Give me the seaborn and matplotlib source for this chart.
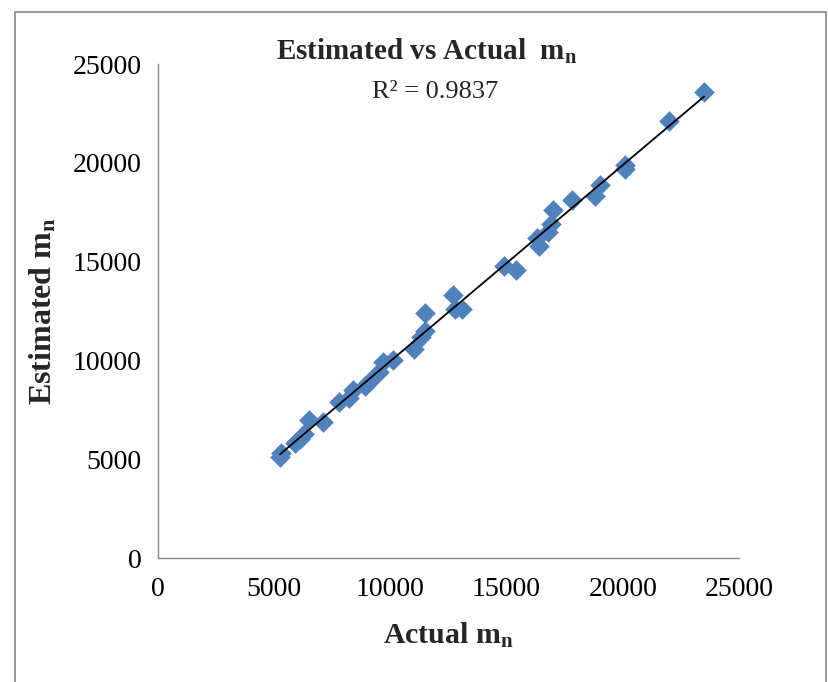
import numpy as np
import pandas as pd
import matplotlib
matplotlib.use('Agg')
import matplotlib.pyplot as plt
import seaborn as sns
from matplotlib.patches import Rectangle

# values
actual = [5250, 5300, 5900, 6100, 6300, 6500, 7100, 7800, 8200, 8400,
          8900, 9100, 9500, 9700, 10100, 11000, 11300, 11500, 11500, 12700,
          12800, 13100, 14900, 15400, 16300, 16400, 16800, 16900, 17000, 17800,
          18800, 19000, 20100, 20100, 22000, 23500]
estimated = [5100, 5300, 5800, 6000, 6300, 7000, 6900, 7900, 8100, 8500,
             8700, 8900, 9400, 9900, 10000, 10600, 11200, 12400, 11500, 13300,
             12600, 12600, 14800, 14600, 16200, 15800, 16500, 16900, 17600, 18100,
             18300, 18900, 19900, 19700, 22100, 23600]
ticks = [0, 5000, 10000, 15000, 20000, 25000]
r2_text = 'R² = 0.9837'

df = pd.DataFrame({'actual': actual, 'estimated': estimated})

sns.set_style('white')
plt.rcParams['font.family'] = ['Liberation Serif', 'DejaVu Serif']
plt.rcParams['mathtext.fontset'] = 'custom'
plt.rcParams['mathtext.rm'] = 'Liberation Serif'
plt.rcParams['mathtext.bf'] = 'Liberation Serif:bold'

W, H = 829, 682
fig = plt.figure(figsize=(W / 100, H / 100), dpi=100)
ax = fig.add_axes([158 / W, (H - 558) / H, (739 - 158) / W, (558 - 64) / H])

sns.scatterplot(data=df, x='actual', y='estimated', marker='D', s=110,
                color='#4F81BD', edgecolor='#4F81BD', linewidth=0, ax=ax,
                zorder=2)
sns.regplot(data=df, x='actual', y='estimated', scatter=False, ci=None,
            truncate=True, color='black', line_kws={'lw': 1.3, 'zorder': 3},
            ax=ax)

ax.set_xlim(0, 25000)
ax.set_ylim(0, 25000)
ax.set_xticks(ticks)
ax.set_yticks(ticks)
ax.tick_params(direction='out', length=6, width=1, color='#888888',
               labelsize=20, labelcolor='black')
ax.tick_params(axis='x', pad=8)
ax.tick_params(axis='y', pad=6)
for side in ['top', 'right']:
    ax.spines[side].set_visible(False)
for side in ['left', 'bottom']:
    ax.spines[side].set_color('#888888')
    ax.spines[side].set_linewidth(1)

ax.set_xlabel(r'Actual $\mathbf{m_n}$', fontsize=21.5, fontweight='bold', labelpad=13)
ax.set_ylabel(r'Estimated $\mathbf{m_n}$', fontsize=23, fontweight='bold', labelpad=10)

fig.text(427 / W, (H - 51) / H, r'Estimated vs Actual  $\mathbf{m_n}$',
         ha='center', va='center', fontsize=21, fontweight='bold')
fig.text(435 / W, (H - 92) / H, r2_text, ha='center', va='center', fontsize=19)

# outer chart frame
fig.patches.append(Rectangle((15 / W, -0.05), (826 - 15) / W, (H - 12) / H + 0.05,
                             transform=fig.transFigure, fill=False,
                             edgecolor='#888888', lw=1.2))

fig.savefig('out.png', dpi=100)
